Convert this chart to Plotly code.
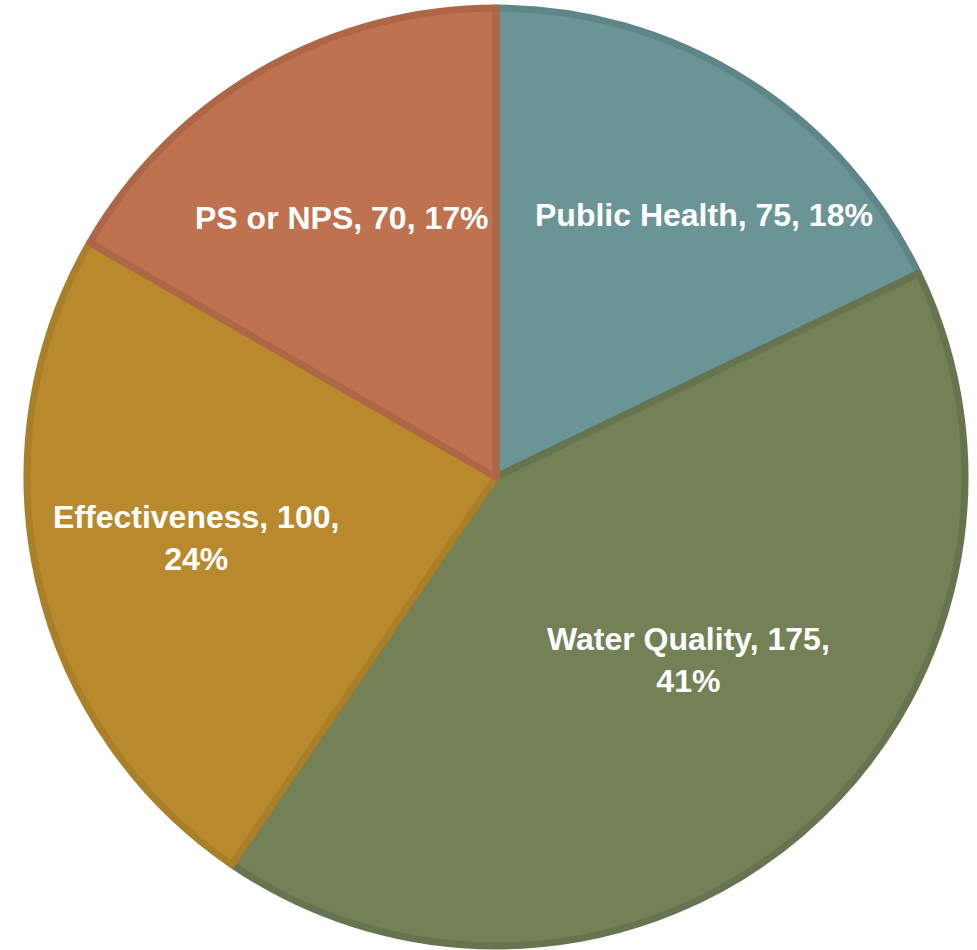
import math
import plotly.graph_objects as go

categories = ["Public Health", "Water Quality", "Effectiveness", "PS or NPS"]
values = [75, 175, 100, 70]
pct_labels = ["18%", "41%", "24%", "17%"]
label_breaks = [", ", ",<br>", ",<br>", ", "]

fill_colors = ["#6A9496", "#748157", "#B98A2D", "#BE7250"]
border_colors = ["#5E8688", "#667450", "#A97F27", "#AE6647"]

# label placement (style): fraction of radius and angular nudge (deg) from slice middle
label_radius = [0.713, 0.566, 0.653, 0.643]
label_shift = [6.3, -5.7, 1.4, -0.9]

W, H = 977, 950
M = dict(l=27, r=12, t=8, b=4)
plot_w = W - M["l"] - M["r"]
plot_h = H - M["t"] - M["b"]
R = min(plot_w, plot_h) / 2

texts = [f"{c}, {v}{b}{p}" for c, v, b, p in zip(categories, values, label_breaks, pct_labels)]

fig = go.Figure(go.Pie(
    labels=categories,
    values=values,
    textinfo="none",
    sort=False,
    direction="clockwise",
    rotation=0,
    marker=dict(colors=fill_colors, line=dict(color=border_colors, width=7)),
    hoverinfo="label+value+percent",
))

total = sum(values)
cum = 0
annotations = []
for txt, v, rf, sh in zip(texts, values, label_radius, label_shift):
    mid = (cum + v / 2) / total * 360 + sh
    cum += v
    rad = math.radians(mid)
    r = rf * R
    annotations.append(dict(
        x=0.5 + r * math.sin(rad) / plot_w,
        y=0.5 + r * math.cos(rad) / plot_h,
        xref="paper", yref="paper",
        text=txt, showarrow=False,
        xanchor="center", yanchor="middle", align="center",
        font=dict(family="Liberation Sans, Arial, sans-serif", size=32, color="white", weight="bold"),
    ))

fig.update_layout(
    width=W, height=H,
    margin=M,
    showlegend=False,
    paper_bgcolor="white",
    plot_bgcolor="white",
    annotations=annotations,
)

fig.write_html("out.html", config={"displayModeBar": False},
               post_script="document.body.style.margin='0';")
